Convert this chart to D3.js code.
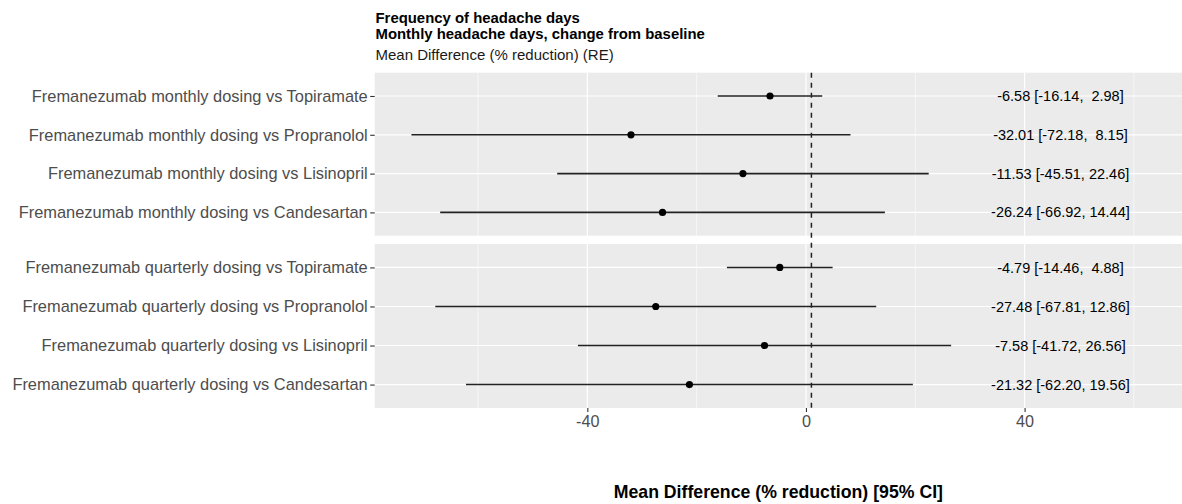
<!DOCTYPE html>
<html>
<head>
<meta charset="utf-8">
<script src="https://cdn.jsdelivr.net/npm/d3@7"></script>
<style>
  html, body { margin: 0; padding: 0; background: #fff; }
  svg { display: block; font-family: "Liberation Sans", Arial, sans-serif; }
</style>
</head>
<body>
<svg id="chart" width="1182" height="504"></svg>
<script>
// Forest plot: mean difference in monthly headache days, Fremanezumab vs comparators
const comparators = ["Topiramate", "Propranolol", "Lisinopril", "Candesartan"];
const groups = ["monthly", "quarterly"];

const monthlyMean  = [-6.58, -32.01, -11.53, -26.24];
const monthlyLower = [-16.14, -72.18, -45.51, -66.92];
const monthlyUpper = [2.98, 8.15, 22.46, 14.44];

const quarterlyMean  = [-4.79, -27.48, -7.58, -21.32];
const quarterlyLower = [-14.46, -67.81, -41.72, -62.20];
const quarterlyUpper = [4.88, 12.86, 26.56, 19.56];

const majorTicks = [-40, 0, 40];
const minorTicks = [-60, -20, 20, 60];
const referenceValue = 1;

const titleLines = ["Frequency of headache days", "Monthly headache days, change from baseline"];
const subtitle = "Mean Difference (% reduction) (RE)";
const xTitle = "Mean Difference (% reduction) [95% CI]";

// plain hyphen-minus, two decimals
const fmt = v => v.toFixed(2);
const pad = (s, n) => s.length >= n ? s : " ".repeat(n - s.length) + s;

function buildRows(group, mean, lower, upper) {
  return comparators.map((c, i) => ({
    label: `Fremanezumab ${group} dosing vs ${c}`,
    mean: mean[i], lower: lower[i], upper: upper[i],
    text: `${fmt(mean[i])} [${fmt(lower[i])}, ${pad(fmt(upper[i]), 5)}]`
  }));
}
const panels = [
  buildRows(groups[0], monthlyMean, monthlyLower, monthlyUpper),
  buildRows(groups[1], quarterlyMean, quarterlyLower, quarterlyUpper)
];
// estimate labels sit a fixed distance past the widest upper bound
const textX = d3.max([...monthlyUpper, ...quarterlyUpper]) + 20;

const svg = d3.select("#chart");
const left = 374.7, right = 1182;
const panelBoxes = [[72.7, 235.7], [244, 408]];

const x = d3.scaleLinear().domain([-78.9, 68.8]).range([left, right]);

// titles
svg.append("text").attr("x", 375.5).attr("y", 22.5)
  .attr("font-size", 14.9).attr("font-weight", "bold").attr("fill", "#000")
  .text(titleLines[0]);
svg.append("text").attr("x", 375.5).attr("y", 38.5)
  .attr("font-size", 14.9).attr("font-weight", "bold").attr("fill", "#000")
  .text(titleLines[1]);
svg.append("text").attr("x", 375.5).attr("y", 59.5)
  .attr("font-size", 15).attr("fill", "#1a1a1a")
  .text(subtitle);

panels.forEach((rows, pi) => {
  const [top, bottom] = panelBoxes[pi];
  const y = d3.scalePoint().domain(rows.map(r => r.label)).range([top, bottom]).padding(0.6);
  const g = svg.append("g");

  g.append("rect").attr("x", left).attr("y", top)
    .attr("width", right - left).attr("height", bottom - top).attr("fill", "#EBEBEB");

  g.selectAll(".minor").data(minorTicks).join("line")
    .attr("x1", d => x(d)).attr("x2", d => x(d)).attr("y1", top).attr("y2", bottom)
    .attr("stroke", "#fff").attr("stroke-width", 0.6);
  g.selectAll(".major").data(majorTicks).join("line")
    .attr("x1", d => x(d)).attr("x2", d => x(d)).attr("y1", top).attr("y2", bottom)
    .attr("stroke", "#fff").attr("stroke-width", 1.2);
  g.selectAll(".hgrid").data(rows).join("line")
    .attr("x1", left).attr("x2", right).attr("y1", d => y(d.label)).attr("y2", d => y(d.label))
    .attr("stroke", "#fff").attr("stroke-width", 1.2);

  // y axis
  const yAxis = d3.axisLeft(y).tickSize(4.5).tickPadding(2.5);
  const ya = g.append("g").attr("transform", `translate(${left},0)`).call(yAxis);
  ya.select(".domain").remove();
  ya.selectAll(".tick line").attr("stroke", "#333").attr("stroke-width", 1.1);
  ya.selectAll(".tick text").attr("font-size", 16.4).attr("fill", "#4d4d4d")
    .attr("font-family", "'Liberation Sans', Arial, sans-serif");

  // confidence intervals
  g.selectAll(".ci").data(rows).join("line")
    .attr("x1", d => x(d.lower)).attr("x2", d => x(d.upper))
    .attr("y1", d => y(d.label)).attr("y2", d => y(d.label))
    .attr("stroke", "#222").attr("stroke-width", 1.6);

  g.selectAll(".pt").data(rows).join("circle")
    .attr("cx", d => x(d.mean)).attr("cy", d => y(d.label)).attr("r", 3.6)
    .attr("fill", "#000");

  g.selectAll(".est").data(rows).join("text")
    .attr("x", x(textX)).attr("y", d => y(d.label)).attr("dy", "0.35em")
    .attr("text-anchor", "middle").attr("font-size", 14.5).attr("fill", "#000")
    .style("white-space", "pre")
    .text(d => d.text);

  if (pi === panels.length - 1) {
    const xAxis = d3.axisBottom(x).tickValues(majorTicks).tickSize(4).tickPadding(3)
      .tickFormat(d => d < 0 ? "-" + Math.abs(d) : String(d));
    const xa = g.append("g").attr("transform", `translate(0,${bottom})`).call(xAxis);
    xa.select(".domain").remove();
    xa.selectAll(".tick line").attr("stroke", "#333").attr("stroke-width", 1.1);
    xa.selectAll(".tick text").attr("font-size", 16.2).attr("fill", "#4d4d4d")
      .attr("font-family", "'Liberation Sans', Arial, sans-serif");
  }
});

// reference line spanning both panels
svg.append("line")
  .attr("x1", x(referenceValue)).attr("x2", x(referenceValue))
  .attr("y1", panelBoxes[0][0]).attr("y2", panelBoxes[1][1])
  .attr("stroke", "#222").attr("stroke-width", 1.5).attr("stroke-dasharray", "5,5");

svg.append("text").attr("x", (left + right) / 2).attr("y", 497.5)
  .attr("text-anchor", "middle").attr("font-size", 17.7).attr("font-weight", "bold")
  .attr("fill", "#000").text(xTitle);
</script>
</body>
</html>
